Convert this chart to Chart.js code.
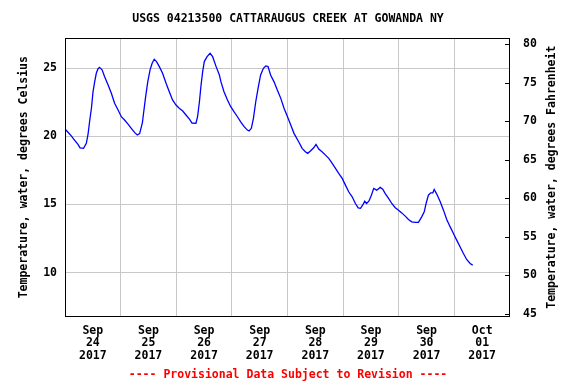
<!DOCTYPE html>
<html>
<head>
<meta charset="utf-8">
<script src="https://cdn.jsdelivr.net/npm/chart.js@4.4.1/dist/chart.umd.min.js"></script>
<style>
  html, body { margin: 0; padding: 0; background: #fff; }
  canvas { display: block; }
</style>
</head>
<body>
<canvas id="tempChart" width="576" height="384"></canvas>
<script>
// hours since Sep 24 2017 00:00
const hours = [
    0, 1.3, 2.7, 4.1, 5.6, 6.5, 8.0, 9.2, 9.9, 10.6, 11.4, 12.1, 12.8, 13.5, 14.2, 14.9,
    16.0, 17.1, 18.6, 20.0, 21.4, 22.9, 24.3, 25.7, 27.2, 28.6, 30.0, 31.2, 32.2, 33.4,
    33.8, 34.7, 35.7, 36.7, 37.6, 38.5, 39.5, 40.7, 42.1, 43.6, 45.0, 46.4, 47.9, 49.3,
    50.8, 52.2, 53.7, 54.8, 56.5, 57.2, 58.0, 58.7, 59.4, 60.1, 61.3, 62.6, 63.7, 65.2,
    66.6, 67.3, 68.6, 70.1, 71.5, 72.9, 74.4, 75.8, 77.3, 78.7, 79.4, 80.4, 81.3, 82.3,
    83.3, 84.4, 85.6, 86.6, 87.6, 88.7, 90.2, 91.6, 93.1, 94.5, 96.0, 97.4, 98.8, 101.0,
    102.3, 103.7, 104.7, 105.9, 107.3, 108.3, 109.5, 110.9, 112.4, 113.8, 115.3, 116.7,
    118.1, 119.6, 121.0, 122.4, 123.9, 125.3, 126.5, 127.5, 128.6, 129.3, 130.1, 131.1,
    132.2, 133.2, 134.5, 136.0, 137.1, 138.1, 139.6, 141.0, 142.4, 143.9, 145.3, 146.8,
    148.2, 149.6, 151.2, 152.5, 153.9, 155.0, 155.8, 156.8, 157.8, 158.7, 159.3, 160.4,
    161.9, 163.3, 164.7, 166.2, 167.6, 169.0, 170.5, 171.9, 173.3, 174.8, 175.9
];
const tempC = [
    20.54, 20.3, 20.04, 19.73, 19.41, 19.15, 19.12, 19.49, 20.1, 21.07, 22.06, 23.28, 24.0, 24.63, 24.95, 25.07,
    24.88, 24.38, 23.77, 23.16, 22.43, 21.93, 21.44, 21.2, 20.9, 20.59, 20.29, 20.1, 20.2, 21.0,
    21.57, 22.79, 24.0, 24.88, 25.37, 25.66, 25.49, 25.12, 24.63, 23.9, 23.28, 22.67, 22.3, 22.06,
    21.86, 21.57, 21.27, 20.98, 20.96, 21.44, 22.54, 23.77, 24.75, 25.49, 25.85, 26.1, 25.85, 25.12,
    24.51, 24.0, 23.28, 22.67, 22.18, 21.81, 21.44, 21.07, 20.71, 20.46, 20.39, 20.59, 21.32, 22.54,
    23.53, 24.51, 25.0, 25.17, 25.12, 24.51, 24.0, 23.4, 22.79, 22.06, 21.44, 20.83, 20.22, 19.55,
    19.12, 18.87, 18.75, 18.92, 19.16, 19.41, 19.07, 18.87, 18.62, 18.38, 18.01, 17.65,
    17.28, 16.91, 16.42, 15.93, 15.56, 15.07, 14.75, 14.71, 15.0, 15.24, 15.07, 15.24,
    15.68, 16.18, 16.05, 16.25, 16.12, 15.81, 15.44, 15.07, 14.78, 14.58, 14.38, 14.14,
    13.9, 13.72, 13.68, 13.68, 14.09, 14.46, 15.07, 15.68, 15.85, 15.85, 16.1, 15.76,
    15.19, 14.58, 13.9, 13.35, 12.87, 12.38, 11.88, 11.4, 10.96, 10.66, 10.54
];

const dayTickHours = [12, 36, 60, 84, 108, 132, 156, 180];
const dayTickMonths = ["Sep", "Sep", "Sep", "Sep", "Sep", "Sep", "Sep", "Oct"];
const dayTickDays = ["24", "25", "26", "27", "28", "29", "30", "01"];
const dayTickYears = ["2017", "2017", "2017", "2017", "2017", "2017", "2017", "2017"];
const midnightHours = [24, 48, 72, 96, 120, 144, 168];
const celsiusTicks = [10, 15, 20, 25];
const fahrenheitTicks = [45, 50, 55, 60, 65, 70, 75, 80];

const FONT = "'DejaVu Sans Mono', monospace";
const GRID = "#c8c8c8";

// frame, inward ticks on the right axis and its title
const framePlugin = {
    id: "frame",
    afterDatasetsDraw(chart) {
        const { ctx, chartArea: a } = chart;
        const yF = chart.scales.yF;
        ctx.save();
        ctx.strokeStyle = "#000";
        ctx.lineWidth = 1;
        ctx.strokeRect(Math.round(a.left) + 0.5, Math.round(a.top) + 0.5,
            Math.round(a.right - a.left) - 1, Math.round(a.bottom - a.top));
        ctx.beginPath();
        fahrenheitTicks.forEach(function (v) {
            const y = Math.round(yF.getPixelForValue(v)) + 0.5;
            ctx.moveTo(Math.round(a.right) - 5, y);
            ctx.lineTo(Math.round(a.right), y);
        });
        ctx.stroke();

        ctx.translate(552, (a.top + a.bottom) / 2);
        ctx.rotate(-Math.PI / 2);
        ctx.fillStyle = "#000";
        ctx.font = "bold 11.5px " + FONT;
        ctx.textAlign = "center";
        ctx.textBaseline = "middle";
        ctx.fillText("Temperature, water, degrees Fahrenheit", 0, 0);
        ctx.restore();
    },
};

const ctx = document.getElementById("tempChart");

new Chart(ctx, {
    type: "line",
    data: {
        datasets: [
            {
                label: "Temperature",
                data: hours.map((h, i) => ({ x: h, y: tempC[i] })),
                borderColor: "#0000ff",
                borderWidth: 1.3,
                pointRadius: 0,
                tension: 0,
                fill: false,
                yAxisID: "y",
            },
        ],
    },
    options: {
        responsive: false,
        animation: false,
        devicePixelRatio: 1,
        layout: { padding: 0 },
        plugins: {
            legend: { display: false },
            tooltip: { enabled: false },
            title: {
                display: true,
                text: "USGS 04213500 CATTARAUGUS CREEK AT GOWANDA NY",
                color: "#000",
                font: { family: FONT, size: 11.5, weight: "bold", lineHeight: 1.2 },
                padding: { top: 12.1, bottom: 12.4 },
            },
            subtitle: {
                display: true,
                position: "bottom",
                text: "---- Provisional Data Subject to Revision ----",
                color: "#ff0000",
                font: { family: FONT, size: 11.5, weight: "bold", lineHeight: 1.2 },
                padding: { top: 2, bottom: 2.1 },
            },
        },
        scales: {
            x: {
                type: "linear",
                min: 0,
                max: 192,
                afterBuildTicks(scale) {
                    const vals = [0, 192].concat(dayTickHours, midnightHours).sort((a, b) => a - b);
                    scale.ticks = vals.map((v) => ({ value: v }));
                },
                afterFit(scale) {
                    scale.height = 50;
                },
                border: { display: false },
                grid: {
                    drawTicks: false,
                    color: (c) => (c.tick && midnightHours.includes(c.tick.value) ? GRID : "rgba(0,0,0,0)"),
                },
                ticks: {
                    autoSkip: false,
                    maxRotation: 0,
                    padding: 8.5,
                    color: "#000",
                    font: { family: FONT, size: 11.5, weight: "bold", lineHeight: "12.5px" },
                    callback: function (value) {
                        const i = dayTickHours.indexOf(value);
                        return i >= 0 ? [dayTickMonths[i], dayTickDays[i], dayTickYears[i]] : "";
                    },
                },
            },
            y: {
                position: "left",
                min: 6.8,
                max: 27.2,
                afterBuildTicks(scale) {
                    scale.ticks = celsiusTicks.map((v) => ({ value: v }));
                },
                afterFit(scale) {
                    scale.width = 65;
                },
                border: { display: false },
                grid: { drawTicks: false, color: GRID },
                ticks: {
                    padding: 8,
                    color: "#000",
                    font: { family: FONT, size: 11.5, weight: "bold" },
                },
                title: {
                    display: true,
                    text: "Temperature, water, degrees Celsius",
                    color: "#000",
                    font: { family: FONT, size: 11.5, weight: "bold", lineHeight: 1.2 },
                    padding: { top: 17, bottom: 0 },
                },
            },
            yF: {
                position: "right",
                min: 44.7,
                max: 80.75,
                afterBuildTicks(scale) {
                    scale.ticks = fahrenheitTicks.map((v) => ({ value: v }));
                },
                afterFit(scale) {
                    scale.width = 66;
                },
                border: { display: false },
                grid: { drawOnChartArea: false, drawTicks: false },
                ticks: {
                    padding: 13,
                    color: "#000",
                    font: { family: FONT, size: 11.5, weight: "bold" },
                },
            },
        },
    },
    plugins: [framePlugin],
});
</script>
</body>
</html>
